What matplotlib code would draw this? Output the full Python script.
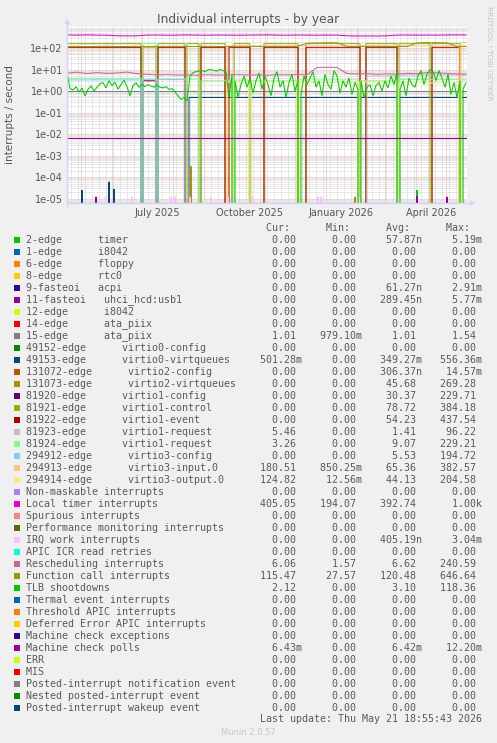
import datetime as dt
import numpy as np
import matplotlib
matplotlib.use('Agg')
import matplotlib.pyplot as plt
import matplotlib.dates as mdates
from matplotlib.lines import Line2D
from matplotlib.patches import Rectangle, Polygon
from matplotlib.ticker import FixedLocator, NullFormatter

# ------------------------------------------------------------------
# data (days since the left edge of the graph, 1 pixel per day)
# ------------------------------------------------------------------
start = dt.datetime(2025, 4, 17)

# local timer interrupts, sampled every 10 days
loc_days = [0, 10, 20, 30, 40, 50, 60, 70, 80, 90, 100, 110, 120, 130, 140, 150, 160, 170, 180, 190,
            200, 210, 220, 230, 240, 250, 260, 270, 280, 290, 300, 310, 320, 330, 340, 350, 360, 370, 380, 390, 399]
loc_vals = [405, 400, 410, 400, 395, 370, 365, 368, 400, 405, 395, 400, 410, 400, 395, 405, 400, 395, 400, 405,
            410, 400, 395, 405, 400, 398, 402, 400, 368, 362, 365, 360, 370, 400, 405, 398, 402, 400, 405, 410, 405]

# rescheduling interrupts, same 10 day grid
res_vals = [6.8, 7.5, 6.5, 7.2, 6.6, 6.9, 7.6, 6.4, 6.0, 5.6, 5.8, 5.5, 5.6, 5.4, 5.7, 5.5, 5.6, 5.8, 5.5, 5.6,
            5.4, 5.7, 5.6, 5.8, 5.7, 12.5, 12.8, 12.4, 6.5, 6.2, 6.4, 6.0, 6.3, 6.1, 6.6, 6.4, 7.2, 7.0, 6.6, 6.2, 6.1]

# function call interrupts, same 10 day grid
cal_vals = [118, 120, 116, 119, 121, 117, 118, 120, 116, 118, 119, 121, 117, 118, 120, 118, 117, 119, 120, 118,
            117, 119, 118, 120, 165, 172, 175, 176, 118, 117, 119, 120, 118, 117, 118, 172, 178, 176, 174, 118, 117]

# TLB shootdowns, sampled every 3 days
tlb_days = list(range(0, 400, 3))
tlb_vals = [7.0, 1.3, 1.1, 1.6, 0.9, 1.4, 0.6, 1.2, 1.7, 1.0, 1.5, 2.2,
            2.5, 1.4, 3.0, 1.8, 2.6, 1.2, 2.0, 3.2, 1.6, 0.6, 1.8, 2.4, 1.5, 2.0,
            1.6, 2.0, 1.7, 1.5, 1.9,
            1.5, 1.4, 1.6, 1.2, 1.3, 0.9, 0.6, 0.4, 0.5, 0.35,
            5.0, 7.0, 8.0, 8.5, 9.0, 8.0, 9.5, 10.0, 9.0, 8.5, 10.0, 9.0, 8.0,
            0.5, 6.0, 3.0, 0.5, 2.0, 5.0, 1.5, 4.0, 0.8, 3.0, 7.0, 1.2, 5.0, 2.0, 0.6, 4.0, 8.0, 1.5, 3.0, 0.5, 2.5,
            6.0, 1.0, 3.0, 0.7, 5.0, 2.0, 4.0, 8.0, 1.5, 3.0, 0.6, 6.0, 2.0, 1.2, 9.0, 5.0, 0.8, 3.0, 1.5, 4.0, 0.7, 2.5, 1.2,
            3.0, 0.5, 1.5, 2.0, 0.6, 1.8, 2.5, 1.0, 3.0, 1.4, 5.0, 2.0, 8.0,
            1.2, 3.0, 0.6, 4.0, 2.0, 1.5, 5.0, 9.0, 2.0, 6.0, 10.0, 8.0, 3.0, 9.0, 4.0, 1.5, 6.0, 0.7, 2.5, 0.5, 3.0, 1.2, 2.4]
tlb_zero_days = [166, 232, 292, 331, 394]

# virtio devices: (first day, last day, level) of each active period
vio1_ctl = [(0, 74, 160), (91, 118, 160), (120, 132, 160), (134, 158, 160), (167, 183, 160),
            (197, 231, 160), (239, 293, 160), (299, 330, 160), (332, 363, 160), (365, 393, 160)]
vio2_vq = [(76, 89, 110)]
vio1_evt = [(0, 74, 108), (76, 89, 3.0), (91, 118, 108), (134, 158, 108), (162, 183, 108),
            (197, 231, 108), (239, 293, 108), (299, 330, 108), (365, 393, 108)]
vio1_req_a = [(300, 330, 5.0), (332, 392, 5.5), (394, 401, 5.5)]
vio1_req_b = [(0, 74, 3.9), (76, 89, 160), (91, 132, 3.6), (134, 165, 3.0), (167, 182, 3.2),
              (184, 230, 3.0), (232, 291, 3.3), (293, 330, 3.0), (332, 392, 3.4), (394, 401, 3.3)]
vio3_cfg = [(0, 74, 3.3), (76, 89, 3.5), (91, 118, 3.4)]
vio3_in = [(160, 392, 125), (394, 401, 180)]
vio3_out = [(160, 165, 2.6), (167, 182, 2.4), (184, 230, 2.7), (232, 291, 2.5), (293, 330, 2.6),
            (332, 392, 2.4), (394, 401, 125)]

ata_level = 1.01
vio0_on_day, vio0_level = 122, 0.501
vio0_spike_days = [15, 42, 47, 75]
vio0_spike_vals = [2.5e-5, 6e-5, 2.8e-5, 1.2e-5]
mcp_level = 6.43e-3

# tiny bumps close to the bottom of the graph
iwi_days = [39, 65, 104, 108, 123, 144, 161, 164, 185, 251, 254, 292, 332]
iwi_vals = [1.2e-5] * 13
usb_days = [29, 75, 90, 231, 350, 380]
usb_vals = [1.2e-5, 1.2e-5, 1.2e-5, 1.2e-5, 1.3e-5, 1.2e-5]
vq2_spike_days = [124, 288]
vq2_spike_vals = [3.2e-4, 1.2e-5]
timer_spike_days = [350]
timer_spike_vals = [2.5e-5]

yticks = [1e-5, 1e-4, 1e-3, 1e-2, 1e-1, 1e0, 1e1, 1e2]
ytick_labels = ['1e-05', '1e-04', '1e-03', '1e-02', '1e-01', '1e+00', '1e+01', '1e+02']
xtick_labels = ['July 2025', 'October 2025', 'January 2026', 'April 2026']
xtick_dates = [dt.datetime(2025, 7, 16), dt.datetime(2025, 10, 16), dt.datetime(2026, 1, 16), dt.datetime(2026, 4, 16)]

# legend table
leg_labels = ["2-edge      timer", "1-edge      i8042", "6-edge      floppy", "8-edge      rtc0",
              "9-fasteoi   acpi", "11-fasteoi   uhci_hcd:usb1", "12-edge      i8042", "14-edge      ata_piix",
              "15-edge      ata_piix", "49152-edge      virtio0-config", "49153-edge      virtio0-virtqueues",
              "131072-edge      virtio2-config", "131073-edge      virtio2-virtqueues",
              "81920-edge      virtio1-config", "81921-edge      virtio1-control", "81922-edge      virtio1-event",
              "81923-edge      virtio1-request", "81924-edge      virtio1-request",
              "294912-edge      virtio3-config", "294913-edge      virtio3-input.0",
              "294914-edge      virtio3-output.0", "Non-maskable interrupts", "Local timer interrupts",
              "Spurious interrupts", "Performance monitoring interrupts", "IRQ work interrupts",
              "APIC ICR read retries", "Rescheduling interrupts", "Function call interrupts", "TLB shootdowns",
              "Thermal event interrupts", "Threshold APIC interrupts", "Deferred Error APIC interrupts",
              "Machine check exceptions", "Machine check polls", "ERR", "MIS",
              "Posted-interrupt notification event", "Nested posted-interrupt event", "Posted-interrupt wakeup event"]
leg_colors = ['#00CC00', '#0066B3', '#FF8000', '#FFCC00', '#330099', '#990099', '#CCFF00', '#FF0000',
              '#808080', '#008F00', '#00487D', '#B35A00', '#B38F00', '#6B006B', '#8FB300', '#B30000',
              '#BEBEBE', '#80FF80', '#80C9FF', '#FFC080', '#FFE680', '#AA80FF', '#EE00CC', '#FF8080',
              '#666600', '#FFBFFF', '#00FFCC', '#CC6699', '#999900', '#00CC00', '#0066B3', '#FF8000',
              '#FFCC00', '#330099', '#990099', '#CCFF00', '#FF0000', '#808080', '#008F00', '#00487D']
cur_vals = ["0.00"] * 8 + ["1.01", "0.00", "501.28m"] + ["0.00"] * 5 + ["5.46", "3.26", "0.00", "180.51", "124.82",
            "0.00", "405.05", "0.00", "0.00", "0.00", "0.00", "6.06", "115.47", "2.12"] + ["0.00"] * 4 + ["6.43m"] + ["0.00"] * 5
min_vals = ["0.00"] * 8 + ["979.10m"] + ["0.00"] * 10 + ["850.25m", "12.56m", "0.00", "194.07"] + ["0.00"] * 4 + \
           ["1.57", "27.57"] + ["0.00"] * 11
avg_vals = ["57.87n", "0.00", "0.00", "0.00", "61.27n", "289.45n", "0.00", "0.00", "1.01", "0.00", "349.27m",
            "306.37n", "45.68", "30.37", "78.72", "54.23", "1.41", "9.07", "5.53", "65.36", "44.13", "0.00",
            "392.74", "0.00", "0.00", "405.19n", "0.00", "6.62", "120.48", "3.10", "0.00", "0.00", "0.00", "0.00",
            "6.42m", "0.00", "0.00", "0.00", "0.00", "0.00"]
max_vals = ["5.19m", "0.00", "0.00", "0.00", "2.91m", "5.77m", "0.00", "0.00", "1.54", "0.00", "556.36m",
            "14.57m", "269.28", "229.71", "384.18", "437.54", "96.22", "229.21", "194.72", "382.57", "204.58",
            "0.00", "1.00k", "0.00", "0.00", "3.04m", "0.00", "240.59", "646.64", "118.36", "0.00", "0.00", "0.00",
            "0.00", "12.20m", "0.00", "0.00", "0.00", "0.00", "0.00"]

# ------------------------------------------------------------------
# figure layout (pixel based, 497x743)
# ------------------------------------------------------------------
W, H = 497, 743
fig = plt.figure(figsize=(W / 100, H / 100), dpi=100, facecolor='#F0F0F0')
PL, PT, PR, PB = 67, 27, 467, 203
ax = fig.add_axes([PL / W, 1 - PB / H, (PR - PL) / W, (PB - PT) / H])
ax.set_facecolor('white')

t0 = mdates.date2num(start)


def tx(days):
    return t0 + np.asarray(days, dtype=float)


def session_path(sess):
    xs, ys = [], []
    for a, b, lvl in sess:
        xs += [a - 0.5, a, b, b + 0.5]
        ys += [0, lvl, lvl, 0]
    return tx(xs), np.array(ys, dtype=float)


def spike_path(days, vals):
    xs, ys = [], []
    for d, v in zip(days, vals):
        xs += [d - 0.6, d, d + 0.6]
        ys += [0, v, 0]
    return tx(xs), np.array(ys, dtype=float)


LW = 0.75
ax.set_yscale('log', nonpositive='clip')


def draw(x, y, c, z=2):
    ax.plot(x, y, color=c, lw=LW, zorder=z, solid_joinstyle='miter')


# ------------------------------------------------------------------
# series, in legend order so later ones sit on top
# ------------------------------------------------------------------
draw(*spike_path(timer_spike_days, timer_spike_vals), '#00CC00')
draw(*spike_path(usb_days, usb_vals), '#990099')
draw(tx([0, 400]), [ata_level, ata_level], '#808080')
vx, vy = spike_path(vio0_spike_days, vio0_spike_vals)
vx = np.concatenate([vx, tx([vio0_on_day - 0.5, vio0_on_day, 401])])
vy = np.concatenate([vy, [0, vio0_level, vio0_level]])
draw(vx, vy, '#00487D')
draw(*spike_path(vq2_spike_days, vq2_spike_vals), '#B38F00')
draw(*session_path(vio2_vq), '#B38F00')
draw(*session_path(vio1_ctl), '#8FB300')
draw(*session_path(vio1_evt), '#B30000')
draw(*session_path(vio1_req_a), '#BEBEBE')
draw(*session_path(vio1_req_b), '#80FF80')
draw(*session_path(vio3_cfg), '#80C9FF')
draw(*session_path(vio3_in), '#FFC080')
draw(*session_path(vio3_out), '#FFE680')
draw(tx(loc_days), loc_vals, '#EE00CC')
draw(*spike_path(iwi_days, iwi_vals), '#FFBFFF')
draw(tx(loc_days), res_vals, '#CC6699')
draw(tx(loc_days), cal_vals, '#999900')
td = np.array(tlb_days + tlb_zero_days, dtype=float)
tv = np.array(tlb_vals + [0.0] * len(tlb_zero_days))
order = np.argsort(td, kind='stable')
draw(tx(td[order]), tv[order], '#00CC00')
draw(tx([0, 400]), [mcp_level, mcp_level], '#990099')

# ------------------------------------------------------------------
# axes, grid
# ------------------------------------------------------------------
ax.set_xlim(t0, t0 + 400)
ax.set_ylim(6.2e-6, 950)
for s in ax.spines.values():
    s.set_visible(False)

minor_y = [m * 10.0 ** e for e in range(-6, 3) for m in range(2, 10)]
ax.yaxis.set_major_locator(FixedLocator(yticks))
ax.yaxis.set_minor_locator(FixedLocator(minor_y))
ax.set_yticklabels(ytick_labels)
ax.yaxis.set_minor_formatter(NullFormatter())
ax.xaxis.set_major_locator(mdates.MonthLocator())
ax.xaxis.set_minor_locator(mdates.WeekdayLocator(byweekday=mdates.MO))
ax.xaxis.set_major_formatter(NullFormatter())
ax.tick_params(axis='both', which='both', length=0, labelsize=7, colors='#555555', pad=3)
ax.grid(True, which='minor', color='#D2D2D2', lw=0.72, ls=(0, (1, 1)), zorder=0)
ax.grid(True, which='major', color='#F4A6A6', lw=0.72, ls=(0, (1, 1)), zorder=0.5)

for d, lab in zip(xtick_dates, xtick_labels):
    ax.text(mdates.date2num(d), -0.055, lab, transform=ax.get_xaxis_transform(),
            ha='center', va='center', fontsize=7, color='#555555')


def fx(x):
    return x / W


def fy(y):
    return 1 - y / H


axis_c = '#CFD6F8'
fig.add_artist(Line2D([fx(PL), fx(PR + 3)], [fy(PB), fy(PB)], color=axis_c, lw=1.0))
fig.add_artist(Line2D([fx(PL), fx(PL)], [fy(PB + 3), fy(PT - 4)], color=axis_c, lw=1.0))
fig.add_artist(Polygon([[fx(PR + 3), fy(PB - 3)], [fx(PR + 8), fy(PB)], [fx(PR + 3), fy(PB + 3)]],
                       closed=True, color=axis_c, lw=0))
fig.add_artist(Polygon([[fx(PL - 3), fy(PT - 3)], [fx(PL), fy(PT - 8)], [fx(PL + 3), fy(PT - 3)]],
                       closed=True, color=axis_c, lw=0))

# ------------------------------------------------------------------
# texts
# ------------------------------------------------------------------
fig.text(fx(248), fy(19), 'Individual interrupts - by year', ha='center', va='center',
         fontsize=8.8, color='#555555')
fig.text(fx(10), fy(115), 'interrupts / second', ha='center', va='center', rotation=90,
         fontsize=7.5, color='#555555')
fig.text(fx(489), fy(53), 'RRDTOOL / TOBI OETIKER', ha='center', va='center', rotation=270,
         fontsize=5.3, color='#C4C4C4')

mono = dict(family='DejaVu Sans Mono', fontsize=7.17, color='#5A5A5A', ha='left', va='center')


def fld(s):
    return (s if s[-1].isalpha() else s + ' ').rjust(10)


head = ''.ljust(36) + fld('Cur: ') + fld('Min: ') + fld('Avg: ') + fld('Max: ')
fig.text(fx(26), fy(227.5), head, **mono)
for i, lab in enumerate(leg_labels):
    y = 240 + 12 * i
    fig.add_artist(Rectangle((fx(14), fy(y + 3)), 6 / W, 6 / H, facecolor=leg_colors[i], edgecolor='none'))
    row = lab.ljust(36) + fld(cur_vals[i]) + fld(min_vals[i]) + fld(avg_vals[i]) + fld(max_vals[i])
    fig.text(fx(26), fy(y), row, **mono)

fig.text(fx(26), fy(719.5), 'Last update: Thu May 21 18:55:43 2026'.rjust(76), **mono)
fig.text(fx(248), fy(732.5), 'Munin 2.0.57', ha='center', va='center', fontsize=6, color='#C8C8C8')

fig.savefig('out.png', dpi=100, facecolor=fig.get_facecolor())
